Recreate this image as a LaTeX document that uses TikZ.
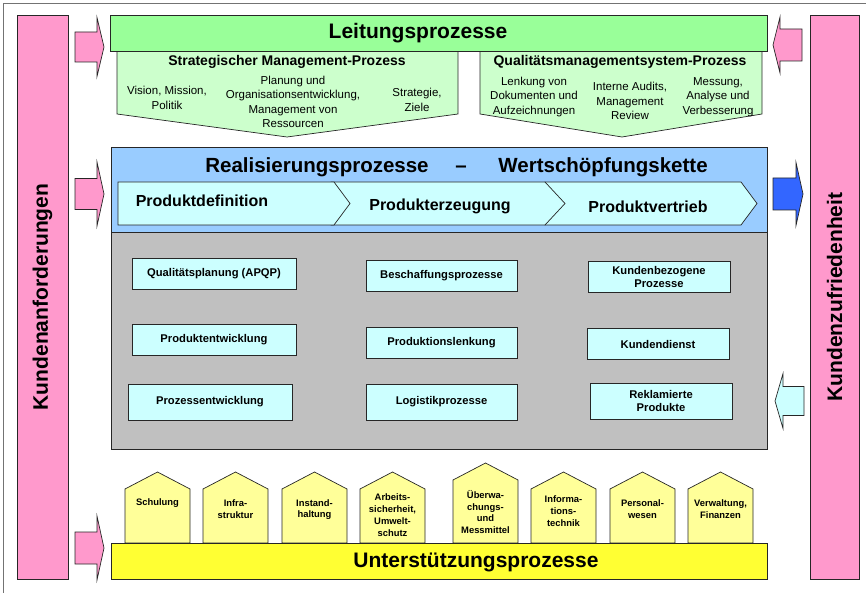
\documentclass[tikz,border=0pt]{standalone}
\usepackage{fontspec}
\setmainfont{Liberation Sans}
\usepackage{tikz}
\usetikzlibrary{positioning}
\definecolor{qmpink}{RGB}{255,153,204}
\definecolor{qmgreen}{RGB}{153,255,153}
\definecolor{qmpale}{RGB}{204,255,204}
\definecolor{qmblue}{RGB}{153,204,255}
\definecolor{qmdeep}{RGB}{51,102,255}
\definecolor{qmcyan}{RGB}{204,255,255}
\definecolor{qmgray}{RGB}{192,192,192}
\definecolor{qmhouse}{RGB}{255,255,153}
\definecolor{qmyellow}{RGB}{255,255,51}

\begin{document}
\begin{tikzpicture}[
  x=1pt, y=-1pt,
  edge/.style={draw=black!85, line width=0.7pt},
  bigtxt/.style={font=\fontsize{21}{25}\selectfont\bfseries},
  headtxt/.style={font=\fontsize{14}{17}\selectfont\bfseries},
  subtxt/.style={font=\fontsize{11.5}{14.3}\selectfont, align=center},
  chevtxt/.style={font=\fontsize{16}{19}\selectfont\bfseries},
  proc/.style={edge, fill=qmcyan, align=center, inner sep=0pt,
    font=\fontsize{11.2}{13}\selectfont\bfseries},
  house/.style={edge, fill=qmhouse},
  housetxt/.style={font=\fontsize{9.4}{11.8}\selectfont\bfseries, align=center},
  blockarrow/.style={edge}
]
  \useasboundingbox (0,0) rectangle (866,593);
  \draw[black!55, line width=0.8pt] (3,593) -- (3,3) -- (866,3);

  % customer bars
  \node[edge, fill=qmpink, minimum width=51pt, minimum height=564pt, inner sep=0pt] (req) at (42.5,297) {};
  \node[bigtxt, rotate=90] (reqtxt) at (req.center) {Kundenanforderungen};
  \node[edge, fill=qmpink, minimum width=49pt, minimum height=564pt, inner sep=0pt] (sat) at (834.5,297) {};
  \node[bigtxt, rotate=90] (sattxt) at (sat.center) {Kundenzufriedenheit};

  % block arrows
  \foreach \xa/\xb/\xt/\ym/\sh/\hh/\col in {75/97/104/47/15/29.5/qmpink, 75/97/104/194/15.5/32/qmpink,
      75/97/104/548/16/32/qmpink, 802/780/773/45/16/28/qmpink, 773/796/803/194/16/31.5/qmdeep,
      804/783/775/401/14.5/27.5/qmcyan}
    \draw[blockarrow, fill=\col] (\xa,\ym-\sh) -- (\xb,\ym-\sh) -- (\xb,\ym-\hh) -- (\xt,\ym)
      -- (\xb,\ym+\hh) -- (\xb,\ym+\sh) -- (\xa,\ym+\sh) -- cycle;

  % management processes
  \draw[edge, fill=qmpale] (117,51) -- (458,51) -- (458,114) -- (287,137) -- (117,114) -- cycle;
  \draw[edge, fill=qmpale] (480,51) -- (762,51) -- (762,114) -- (622,137) -- (480,114) -- cycle;
  \node[edge, fill=qmgreen, minimum width=657pt, minimum height=36pt, inner sep=0pt] (lead) at (438.5,33) {};
  \node[bigtxt] (leadtxt) at (418,33) {Leitungsprozesse};
  \node[headtxt] (smp) at (287,62) {Strategischer Management-Prozess};
  \node[subtxt] (vision) at (167,98) {Vision, Mission,\\Politik};
  \node[subtxt] (plan) at (293,102) {Planung und\\Organisationsentwicklung,\\Management von\\Ressourcen};
  \node[subtxt] (ziele) at (417,100) {Strategie,\\Ziele};
  \node[headtxt] (qms) at (620,62) {Qualitätsmanagementsystem-Prozess};
  \node[subtxt] (lenk) at (534,97) {Lenkung von\\Dokumenten und\\Aufzeichnungen};
  \node[subtxt] (audit) at (630,101) {Interne Audits,\\Management\\Review};
  \node[subtxt] (mess) at (718,97) {Messung,\\Analyse und\\Verbesserung};

  % realisation
  \node[edge, fill=qmblue, minimum width=656pt, minimum height=85pt, inner sep=0pt] (real) at (439,189.5) {};
  \node[edge, fill=qmgray, minimum width=656pt, minimum height=217pt, inner sep=0pt] (core) at (439,340.5) {};
  \node[font=\fontsize{20.5}{24}\selectfont\bfseries] (realtxt) at (456.5,167)
    {Realisierungsprozesse\hspace{1.3em}--\hspace{1.55em}Wertschöpfungskette};
  \foreach \xl/\xr/\xt in {545/741/757, 331/545/565, 118/334/350}
    \draw[edge, fill=qmcyan] (\xl,182) -- (\xr,182) -- (\xt,203.5) -- (\xr,225) -- (\xl,225) -- cycle;
  \node[chevtxt] (pdef) at (202,201) {Produktdefinition};
  \node[chevtxt] (perz) at (440,206) {Produkterzeugung};
  \node[chevtxt] (pvtr) at (648,207) {Produktvertrieb};

  \node[proc, minimum width=164pt, minimum height=31pt] (apqp) at (214,274) {Qualitätsplanung (APQP)};
  \node[proc, minimum width=151pt, minimum height=31pt] (besch) at (441.5,276) {Beschaffungsprozesse};
  \node[proc, minimum width=142pt, minimum height=31pt] (kbez) at (659,277) {Kundenbezogene\\Prozesse};
  \node[proc, minimum width=164pt, minimum height=31pt] (pentw) at (214,340) {Produktentwicklung};
  \node[proc, minimum width=151pt, minimum height=31pt] (plenk) at (441.5,343) {Produktionslenkung};
  \node[proc, minimum width=142pt, minimum height=31pt] (kdienst) at (658,344) {Kundendienst};
  \node[proc, minimum width=164pt, minimum height=36pt] (pzentw) at (210,402) {Prozessentwicklung};
  \node[proc, minimum width=151pt, minimum height=36pt] (logis) at (441.5,402) {Logistikprozesse};
  \node[proc, minimum width=142pt, minimum height=36pt] (rekl) at (661,401) {Reklamierte\\Produkte};

  % support processes
  \foreach \hx/\hp/\ty/\txt [count=\i] in {125/472/503/Schulung, 203/472/509.5/{Infra-\\struktur},
      282/472/509.5/{Instand-\\haltung}, 360/472/515/{Arbeits-\\sicherheit,\\Umwelt-\\schutz},
      453/463/512/{Überwa-\\chungs-\\und\\Messmittel}, 531/472/511/{Informa-\\tions-\\technik},
      610/472/509.5/{Personal-\\wesen}, 688/472/509.5/{Verwaltung,\\Finanzen}}
  {
    \draw[house] (\hx,543) -- (\hx,\hp+17) -- (\hx+32.5,\hp) -- (\hx+65,\hp+17) -- (\hx+65,543) -- cycle;
    \node[housetxt] (h\i) at (\hx+32.5,\ty) {\txt};
  }
  \node[edge, fill=qmyellow, minimum width=656pt, minimum height=36pt, inner sep=0pt] (supp) at (439,561) {};
  \node[bigtxt] (supptxt) at (476,562) {Unterstützungsprozesse};
\end{tikzpicture}
\end{document}
